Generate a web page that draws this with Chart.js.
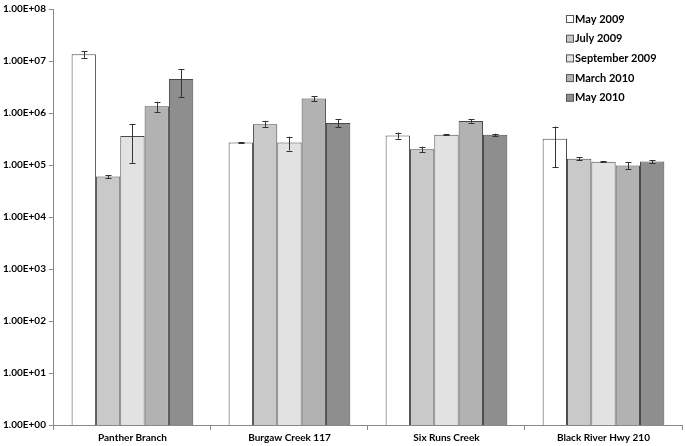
<!DOCTYPE html>
<html>
<head>
<meta charset="utf-8">
<script src="https://cdn.jsdelivr.net/npm/chart.js@4"></script>
<style>
  html, body { margin: 0; padding: 0; background: #fff; }
  #wrap { width: 685px; height: 446px; }
</style>
</head>
<body>
<div id="wrap"><canvas id="myChart" width="685" height="446"></canvas></div>
<script>
// 사이트 이름
const sites = ['Panther Branch', 'Burgaw Creek 117', 'Six Runs Creek', 'Black River Hwy 210'];

// 채취 시기
const seasons = ['May 2009', 'July 2009', 'September 2009', 'March 2010', 'May 2010'];

// 시기별 값 (사이트 순서)
const may2009 = [1.35e7, 2.7e5, 3.7e5, 3.2e5];
const jul2009 = [6.0e4, 6.1e5, 2.0e5, 1.32e5];
const sep2009 = [3.6e5, 2.7e5, 3.8e5, 1.15e5];
const mar2010 = [1.35e6, 1.9e6, 7.0e5, 9.8e4];
const may2010 = [4.5e6, 6.4e5, 3.8e5, 1.17e5];

// 오차 (+/-)
const may2009Err = [2.0e6, 5e3, 5e4, 2.3e5];
const jul2009Err = [4e3, 8e4, 2.5e4, 8e3];
const sep2009Err = [2.5e5, 8e4, 8e3, 3e3];
const mar2010Err = [3e5, 2e5, 5e4, 1.5e4];
const may2010Err = [2.5e6, 1.1e5, 2e4, 8e3];

// y축 눈금
const yTicks = [1, 1e1, 1e2, 1e3, 1e4, 1e5, 1e6, 1e7, 1e8];

const fills = ['#ffffff', '#c9c9c9', '#e2e2e2', '#b2b2b2', '#8e8e8e'];
const values = [may2009, jul2009, sep2009, mar2010, may2010];
const errors = [may2009Err, jul2009Err, sep2009Err, mar2010Err, may2010Err];

const labelFont = { family: 'Lato', size: 10, weight: 'bold' };

// 오차 막대 그리기
const errorBars = {
    id: 'errorBars',
    afterDatasetsDraw(chart) {
        const c = chart.ctx;
        const y = chart.scales.y;
        c.save();
        c.strokeStyle = '#333';
        c.lineWidth = 1;
        chart.data.datasets.forEach((ds, i) => {
            const meta = chart.getDatasetMeta(i);
            meta.data.forEach((bar, j) => {
                const v = ds.data[j], e = ds.err[j];
                const top = y.getPixelForValue(v + e);
                const bot = y.getPixelForValue(Math.max(v - e, 1));
                const x = Math.round(bar.x) + 0.5;
                c.beginPath();
                c.moveTo(x, top); c.lineTo(x, bot);
                c.moveTo(x - 3, Math.round(top) + 0.5); c.lineTo(x + 3, Math.round(top) + 0.5);
                c.moveTo(x - 3, Math.round(bot) + 0.5); c.lineTo(x + 3, Math.round(bot) + 0.5);
                c.stroke();
            });
        });
        c.restore();
    }
};

// 범례 (그래프 안 오른쪽 위)
const insideLegend = {
    id: 'insideLegend',
    afterDraw(chart) {
        const c = chart.ctx;
        c.save();
        c.font = 'bold 11px Lato';
        c.textBaseline = 'middle';
        chart.data.datasets.forEach((ds, i) => {
            const ly = 19 + i * 19.7;
            c.fillStyle = ds.backgroundColor;
            c.strokeStyle = '#555';
            c.lineWidth = 1;
            c.fillRect(566.5, ly - 3.5, 7, 7);
            c.strokeRect(566.5, ly - 3.5, 7, 7);
            c.fillStyle = '#000';
            c.fillText(ds.label, 575, ly);
        });
        c.restore();
    }
};

const ctx = document.getElementById('myChart').getContext('2d');
const myChart = new Chart(ctx, {
    type: 'bar',
    data: {
        labels: sites,
        datasets: seasons.map((s, i) => ({
            label: s,
            data: values[i],
            err: errors[i],
            backgroundColor: fills[i],
            borderColor: '#4a4a4a',
            borderWidth: 1,
            categoryPercentage: 0.775,
            barPercentage: 1.0
        }))
    },
    options: {
        responsive: false,
        animation: false,
        layout: { padding: { top: 0, right: 3, left: 0, bottom: 0 } },
        plugins: {
            legend: { display: false },
            tooltip: { enabled: false }
        },
        scales: {
            x: {
                grid: { display: true, drawOnChartArea: false, tickLength: 5, color: '#888', offset: true },
                border: { color: '#888' },
                ticks: { color: '#000', font: labelFont, padding: 2, maxRotation: 0 }
            },
            y: {
                type: 'logarithmic',
                min: 1,
                max: 1e8,
                afterBuildTicks(axis) {
                    axis.ticks = yTicks.map(v => ({ value: v }));
                },
                grid: { display: true, drawOnChartArea: false, tickLength: 5, color: '#888' },
                border: { color: '#888' },
                ticks: {
                    color: '#000',
                    font: labelFont,
                    padding: 3,
                    callback: v => '1.00E+' + String(Math.round(Math.log10(v))).padStart(2, '0')
                }
            }
        }
    },
    plugins: [errorBars, insideLegend]
});
</script>
</body>
</html>
